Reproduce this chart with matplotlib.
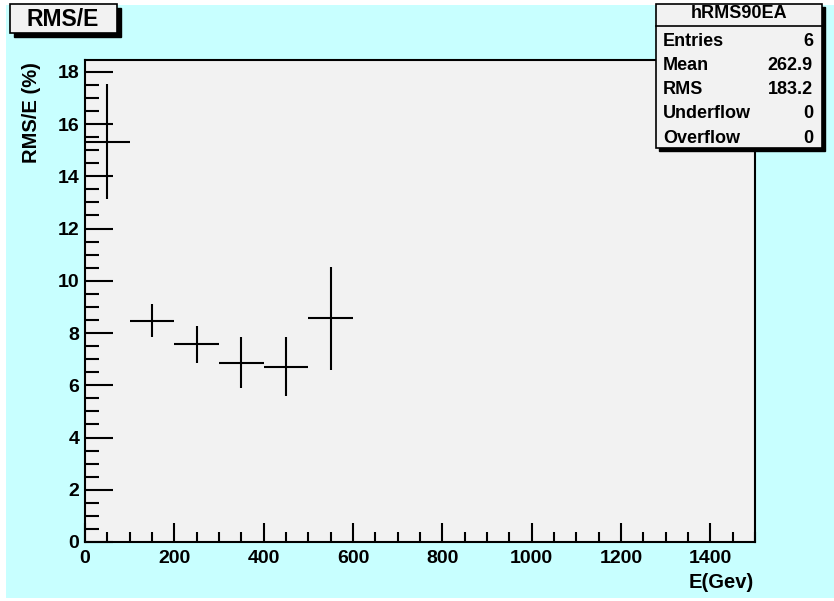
import numpy as np
import matplotlib.pyplot as plt
from matplotlib.patches import Rectangle
from matplotlib.ticker import MultipleLocator

# data
bin_centers = [50, 150, 250, 350, 450, 550]
bin_half_width = [50, 50, 50, 50, 50, 50]
rms_over_e = [15.33, 8.47, 7.56, 6.86, 6.71, 8.56]
rms_err = [2.2, 0.64, 0.69, 0.98, 1.12, 1.96]

stat_names = ['Entries', 'Mean', 'RMS', 'Underflow', 'Overflow']
stat_values = ['6', '262.9', '183.2', '0', '0']

W, H = 834, 601
plt.rcParams['font.family'] = ['Liberation Sans', 'DejaVu Sans']
plt.rcParams['font.weight'] = 'bold'

fig = plt.figure(figsize=(W / 100, H / 100), dpi=100, facecolor='white')

def fx(px):
    return px / W

def fy(py):
    return 1 - py / H

cyan = '#c8ffff'
fig.patches.append(Rectangle((fx(6), fy(598)), fx(834 - 6), (596 - 3) / H,
                             transform=fig.transFigure, facecolor=cyan,
                             edgecolor='none', zorder=-10))

ax = fig.add_axes([fx(85), fy(542), fx(755 - 85), (542 - 60) / H])
ax.set_zorder(1)
ax.set_facecolor('#f2f2f2')
ax.errorbar(bin_centers, rms_over_e, xerr=bin_half_width, yerr=rms_err,
            fmt='none', ecolor='black', elinewidth=1.5, capsize=0)

ax.set_xlim(0, 1500)
ax.set_ylim(0, 18.45)
ax.xaxis.set_major_locator(MultipleLocator(200))
ax.xaxis.set_minor_locator(MultipleLocator(50))
ax.yaxis.set_major_locator(MultipleLocator(2))
ax.yaxis.set_minor_locator(MultipleLocator(0.5))
ax.tick_params(axis='both', which='both', direction='in', top=False, right=False,
               labelsize=14, width=1.5, color='black')
ax.tick_params(axis='y', which='major', length=20, pad=4)
ax.tick_params(axis='y', which='minor', length=10)
ax.tick_params(axis='x', which='major', length=14, pad=6)
ax.tick_params(axis='x', which='minor', length=7)
for lab in ax.get_xticklabels() + ax.get_yticklabels():
    lab.set_fontweight('bold')
for s in ax.spines.values():
    s.set_linewidth(1.5)

fig.text(fx(754), fy(582), 'E(Gev)', ha='right', va='center', fontsize=14.5,
         fontweight='bold')
fig.text(fx(32), fy(62), 'RMS/E (%)', ha='center', va='top', rotation=90,
         fontsize=14.5, fontweight='bold')

# title box with shadow
def box(x0, y0, x1, y1, shadow=4):
    fig.patches.append(Rectangle((fx(x0 + shadow), fy(y1 + shadow)),
                                 fx(x1 - x0), (y1 - y0) / H,
                                 transform=fig.transFigure, facecolor='black',
                                 edgecolor='black', zorder=5))
    fig.patches.append(Rectangle((fx(x0), fy(y1)), fx(x1 - x0), (y1 - y0) / H,
                                 transform=fig.transFigure, facecolor='#f2f2f2',
                                 edgecolor='black', linewidth=1.2, zorder=6))

box(10, 4, 117, 33)
fig.text(fx(63), fy(19), 'RMS/E', ha='center', va='center', fontsize=16.5,
         fontweight='bold', zorder=7)

# stats box
sx0, sy0, sx1, sy1 = 656, 4, 822, 148
box(sx0, sy0, sx1, sy1, shadow=3)
fig.text(fx((sx0 + sx1) / 2), fy(14), 'hRMS90EA', ha='center', va='center',
         fontsize=13, fontweight='bold', zorder=7)
fig.lines.append(plt.Line2D([fx(sx0), fx(sx1)], [fy(26), fy(26)],
                            transform=fig.transFigure, color='black',
                            linewidth=1.2, zorder=7))
for i, (n, v) in enumerate(zip(stat_names, stat_values)):
    yy = 41 + i * 24.3
    fig.text(fx(sx0 + 7), fy(yy), n, ha='left', va='center', fontsize=13,
             fontweight='bold', zorder=7)
    fig.text(fx(sx1 - 9), fy(yy), v, ha='right', va='center', fontsize=13,
             fontweight='bold', zorder=7)

plt.savefig('out.png', dpi=100, facecolor=fig.get_facecolor())
